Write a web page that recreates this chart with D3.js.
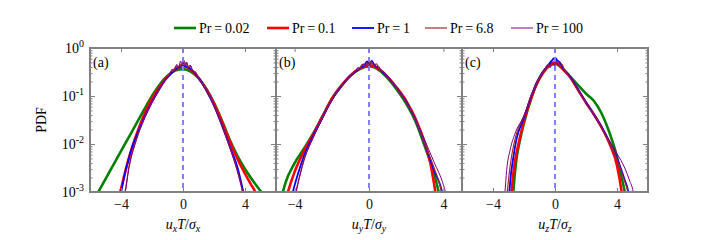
<!DOCTYPE html>
<html>
<head>
<meta charset="utf-8">
<script src="https://cdn.jsdelivr.net/npm/d3@7"></script>
<style>
  body { margin: 0; background: #fff; }
</style>
</head>
<body>
<div id="chart"></div>
<script>
// ---- data: [x, log10(PDF)] ----
var prLabels = ['0.02', '0.1', '1', '6.8', '100'];
var panelTags = ['(a)', '(b)', '(c)'];
var compNames = ['x', 'y', 'z'];
var xTickVals = [-4, 0, 4];
var yTickExps = [0, -1, -2, -3];

// panel (a): u_x
var ux002 = [[-5.7,-3.15],[-5.46,-3.0],[-5,-2.73],[-4.5,-2.44],[-4,-2.15],[-3.5,-1.86],[-3,-1.57],[-2.5,-1.28],[-2,-1.0],[-1.5,-0.76],[-1,-0.58],[-0.5,-0.47],[0,-0.44],[0.5,-0.49],[1,-0.63],[1.5,-0.85],[2,-1.14],[2.5,-1.5],[3,-1.9],[3.5,-2.24],[4,-2.52],[4.5,-2.76],[5,-2.98],[5.3,-3.12]];
var ux01 = [[-4.25,-3.2],[-4.05,-3.0],[-3.8,-2.67],[-3.5,-2.3],[-3,-1.8],[-2.5,-1.38],[-2,-1.05],[-1.5,-0.8],[-1,-0.6],[-0.5,-0.45],[0,-0.38],[0.5,-0.45],[1,-0.62],[1.5,-0.86],[2,-1.16],[2.5,-1.53],[3,-1.93],[3.5,-2.3],[4,-2.62],[4.4,-2.85],[4.65,-3.0],[4.8,-3.2]];
var ux1 = [[-4.12,-3.2],[-3.99,-3.0],[-3.75,-2.62],[-3.5,-2.3],[-3.2,-1.99],[-3,-1.83],[-2.5,-1.45],[-2,-1.12],[-1.5,-0.84],[-1,-0.61],[-0.5,-0.45],[0,-0.37],[0.5,-0.44],[1,-0.62],[1.5,-0.88],[2,-1.2],[2.5,-1.6],[3,-2.03],[3.5,-2.47],[3.89,-3.0],[4.02,-3.2]];
var ux68 = [[-3.88,-3.2],[-3.74,-3.0],[-3.5,-2.5],[-3,-1.9],[-2.5,-1.47],[-2,-1.13],[-1.5,-0.85],[-1,-0.6],[-0.8,-0.5],[-0.6,-0.46],[-0.45,-0.38],[-0.3,-0.43],[-0.2,-0.33],[-0.1,-0.4],[0,-0.3],[0.1,-0.37],[0.2,-0.3],[0.3,-0.4],[0.45,-0.36],[0.6,-0.47],[0.8,-0.5],[1,-0.62],[1.5,-0.88],[2,-1.2],[2.5,-1.6],[3,-2.05],[3.5,-2.55],[3.85,-3.0],[3.97,-3.2]];
var ux100 = [[-3.85,-3.2],[-3.72,-3.0],[-3.5,-2.52],[-3,-1.9],[-2.5,-1.48],[-2,-1.14],[-1.5,-0.86],[-1,-0.6],[-0.85,-0.55],[-0.7,-0.44],[-0.55,-0.47],[-0.4,-0.34],[-0.3,-0.42],[-0.15,-0.27],[-0.05,-0.38],[0.05,-0.25],[0.15,-0.36],[0.25,-0.3],[0.35,-0.42],[0.5,-0.37],[0.65,-0.5],[0.8,-0.52],[1,-0.63],[1.5,-0.89],[2,-1.21],[2.5,-1.61],[3,-2.06],[3.5,-2.56],[3.84,-3.0],[3.95,-3.2]];

// panel (b): u_y
var uy002 = [[-4.8,-3.25],[-4.63,-3.0],[-4.5,-2.82],[-4,-2.4],[-3.5,-2.1],[-3,-1.78],[-2.5,-1.42],[-2,-1.06],[-1.5,-0.8],[-1,-0.58],[-0.5,-0.44],[0,-0.38],[0.5,-0.45],[1,-0.63],[1.5,-0.87],[2,-1.16],[2.5,-1.53],[3,-2.05],[3.5,-2.62],[3.75,-3.0],[3.88,-3.2]];
var uy01 = [[-4.5,-3.2],[-4.36,-3.0],[-4,-2.58],[-3.5,-2.15],[-3,-1.8],[-2.5,-1.43],[-2,-1.06],[-1.5,-0.79],[-1,-0.57],[-0.5,-0.43],[0,-0.36],[0.5,-0.43],[1,-0.6],[1.5,-0.83],[2,-1.1],[2.5,-1.47],[3,-1.98],[3.3,-2.4],[3.57,-3.0],[3.65,-3.2]];
var uy1 = [[-4.2,-3.2],[-4.09,-3.0],[-3.8,-2.6],[-3.5,-2.25],[-3,-1.83],[-2.5,-1.45],[-2,-1.08],[-1.5,-0.8],[-1,-0.58],[-0.5,-0.42],[-0.25,-0.36],[-0.1,-0.28],[0,-0.33],[0.15,-0.27],[0.3,-0.36],[0.5,-0.42],[1,-0.6],[1.5,-0.84],[2,-1.12],[2.5,-1.5],[3,-2.0],[3.5,-2.55],[3.93,-3.0],[4.03,-3.2]];
var uy68 = [[-4.02,-3.2],[-3.93,-3.0],[-3.7,-2.62],[-3.5,-2.33],[-3,-1.86],[-2.5,-1.46],[-2,-1.08],[-1.5,-0.8],[-1,-0.58],[-0.7,-0.46],[-0.5,-0.42],[-0.35,-0.34],[-0.2,-0.38],[-0.1,-0.3],[0,-0.35],[0.1,-0.28],[0.25,-0.37],[0.4,-0.33],[0.55,-0.45],[0.7,-0.47],[1,-0.6],[1.5,-0.84],[2,-1.13],[2.5,-1.5],[3,-2.0],[3.5,-2.5],[3.9,-3.0],[4.0,-3.2]];
var uy100 = [[-4.0,-3.2],[-3.91,-3.0],[-3.7,-2.64],[-3.5,-2.35],[-3,-1.87],[-2.5,-1.47],[-2,-1.09],[-1.5,-0.81],[-1,-0.58],[-0.75,-0.5],[-0.6,-0.41],[-0.45,-0.43],[-0.3,-0.33],[-0.15,-0.38],[-0.05,-0.28],[0.05,-0.36],[0.2,-0.3],[0.35,-0.4],[0.5,-0.37],[0.65,-0.48],[0.8,-0.5],[1,-0.6],[1.5,-0.83],[2,-1.12],[2.5,-1.47],[3,-1.92],[3.5,-2.38],[4,-2.85],[4.11,-3.0],[4.2,-3.15]];

// panel (c): u_z
var uz002 = [[-2.75,-3.25],[-2.69,-3.0],[-2.6,-2.65],[-2.5,-2.35],[-2.3,-1.98],[-2,-1.56],[-1.5,-1.02],[-1,-0.62],[-0.5,-0.4],[0,-0.33],[0.5,-0.43],[1,-0.6],[1.5,-0.78],[2,-0.95],[2.5,-1.1],[3,-1.36],[3.5,-1.75],[4,-2.27],[4.3,-2.7],[4.5,-3.0],[4.6,-3.2]];
var uz01 = [[-2.88,-3.25],[-2.8,-3.0],[-2.7,-2.65],[-2.55,-2.3],[-2.3,-1.92],[-2,-1.52],[-1.5,-1.0],[-1,-0.64],[-0.5,-0.41],[0,-0.3],[0.5,-0.44],[1,-0.62],[1.5,-0.88],[2,-1.14],[2.5,-1.38],[3,-1.65],[3.5,-1.98],[4,-2.45],[4.3,-3.0],[4.38,-3.2]];
var uz1 = [[-3.02,-3.2],[-2.95,-3.0],[-2.85,-2.65],[-2.7,-2.3],[-2.5,-1.92],[-2,-1.45],[-1.5,-0.97],[-1,-0.62],[-0.5,-0.38],[-0.3,-0.3],[-0.15,-0.24],[0,-0.2],[0.15,-0.26],[0.3,-0.3],[0.5,-0.42],[1,-0.61],[1.5,-0.87],[2,-1.13],[2.5,-1.38],[3,-1.64],[3.5,-1.95],[4,-2.3],[4.5,-2.75],[4.73,-3.0],[4.82,-3.2]];
var uz68 = [[-3.15,-3.2],[-3.08,-3.0],[-2.95,-2.6],[-2.8,-2.25],[-2.5,-1.8],[-2,-1.42],[-1.5,-0.96],[-1,-0.62],[-0.6,-0.42],[-0.45,-0.35],[-0.3,-0.4],[-0.15,-0.3],[0,-0.36],[0.15,-0.28],[0.3,-0.38],[0.45,-0.34],[0.6,-0.45],[1,-0.62],[1.5,-0.88],[2,-1.14],[2.5,-1.38],[3,-1.65],[3.5,-1.96],[4,-2.32],[4.5,-2.78],[4.7,-3.0],[4.8,-3.2]];
var uz100 = [[-3.3,-3.2],[-3.23,-3.0],[-3.12,-2.55],[-2.9,-2.13],[-2.6,-1.8],[-2.04,-1.43],[-1.5,-0.98],[-1.29,-0.77],[-1,-0.6],[-0.65,-0.43],[-0.5,-0.36],[-0.35,-0.4],[-0.2,-0.3],[-0.05,-0.36],[0.05,-0.27],[0.2,-0.35],[0.35,-0.3],[0.5,-0.42],[0.7,-0.47],[1,-0.62],[1.5,-0.88],[2,-1.14],[2.5,-1.4],[3,-1.66],[3.5,-1.92],[4,-2.2],[4.5,-2.5],[4.8,-2.75],[5.05,-3.0],[5.15,-3.2]];

var panelSeries = [
    [ux002, ux01, ux1, ux68, ux100],
    [uy002, uy01, uy1, uy68, uy100],
    [uz002, uz01, uz1, uz68, uz100]
];
var panelXLims = [[-6, 6], [-5, 5], [-6, 6]];

// ---- styles ----
var lineColors = ['#008000', '#ff0000', '#0000ff', '#a52a2a', '#800080'];
var lineWidths = [2.6, 2.6, 1.8, 1.2, 1.0];
var axisGray = '#808080';
var serif = '"Liberation Serif", "DejaVu Serif", serif';

// ---- layout ----
var svgWidth = 720;
var svgHeight = 240;
var plotLeft = 90;
var plotTop = 48;
var panelWidth = 186;
var panelHeight = 144;

var svg = d3.select('#chart')
    .append('svg')
    .attr('width', svgWidth)
    .attr('height', svgHeight)
    .attr('font-family', serif);

var yScale = d3.scaleLog()
    .domain([1e-3, 1])
    .range([panelHeight, 0]);

// minor ticks 2..9 per decade
var minorTicks = [];
[-3, -2, -1].forEach(function(e) {
    for (var m = 2; m <= 9; m++) minorTicks.push(m * Math.pow(10, e));
});

panelSeries.forEach(function(seriesList, p) {
    var g = svg.append('g')
        .attr('transform', `translate(${plotLeft + p * panelWidth}, ${plotTop})`);

    var xScale = d3.scaleLinear()
        .domain(panelXLims[p])
        .range([0, panelWidth]);

    var clipId = 'clip' + p;
    g.append('clipPath').attr('id', clipId)
        .append('rect')
        .attr('width', panelWidth)
        .attr('height', panelHeight);

    var lineGen = d3.line()
        .x(d => xScale(d[0]))
        .y(d => yScale(Math.pow(10, d[1])))
        .curve(d3.curveMonotoneX);

    var plotArea = g.append('g').attr('clip-path', `url(#${clipId})`);

    seriesList.forEach(function(data, i) {
        plotArea.append('path')
            .datum(data)
            .attr('d', lineGen)
            .attr('fill', 'none')
            .attr('stroke', lineColors[i])
            .attr('stroke-width', lineWidths[i])
            .attr('stroke-linejoin', 'round');
    });

    // dashed line at zero
    plotArea.append('line')
        .attr('x1', xScale(0)).attr('x2', xScale(0))
        .attr('y1', 0).attr('y2', panelHeight)
        .attr('stroke', '#7f7fff')
        .attr('stroke-width', 2)
        .attr('stroke-dasharray', '5,4');

    // x ticks, inward, bottom and top
    var xBottom = d3.axisBottom(xScale).tickValues(xTickVals)
        .tickSize(-4).tickFormat(d => d < 0 ? '\u2212' + Math.abs(d) : d);
    var xTop = d3.axisTop(xScale).tickValues(xTickVals)
        .tickSize(-4).tickFormat('');

    var bx = g.append('g')
        .attr('transform', `translate(0, ${panelHeight})`)
        .call(xBottom);
    bx.selectAll('text').attr('dy', null).attr('y', 17)
        .attr('font-family', serif).attr('fill', '#111')
        .style('font-size', '14px');
    g.append('g').call(xTop);

    // y ticks, inward, left and right
    [d3.axisLeft(yScale), d3.axisRight(yScale)].forEach(function(ax, side) {
        var shift = side === 0 ? 0 : panelWidth;
        g.append('g')
            .attr('transform', `translate(${shift}, 0)`)
            .call(ax.tickValues(minorTicks).tickSize(-2.5).tickFormat(''));
        g.append('g')
            .attr('transform', `translate(${shift}, 0)`)
            .call(ax.tickValues(yTickExps.map(e => Math.pow(10, e))).tickSize(-5).tickFormat(''));
    });

    g.selectAll('.domain').remove();
    g.selectAll('.tick line').attr('stroke', axisGray);

    // frame
    g.append('rect')
        .attr('width', panelWidth)
        .attr('height', panelHeight)
        .attr('fill', 'none')
        .attr('stroke', axisGray)
        .attr('stroke-width', 2);

    // panel tag
    g.append('text')
        .attr('x', 3).attr('y', 19)
        .style('font-size', '14px')
        .text(panelTags[p]);

    // x title u_i T / sigma_i
    var title = g.append('text')
        .attr('x', panelWidth / 2).attr('y', 181)
        .attr('text-anchor', 'middle')
        .style('font-size', '14px');
    title.append('tspan').style('font-style', 'italic').text('u');
    title.append('tspan').style('font-style', 'italic').style('font-size', '10px')
        .attr('dy', 3).text(compNames[p]);
    title.append('tspan').style('font-style', 'italic').attr('dy', -3).text('T');
    title.append('tspan').text('/');
    title.append('tspan').style('font-style', 'italic').text('\u03c3');
    title.append('tspan').style('font-style', 'italic').style('font-size', '10px')
        .attr('dy', 3).text(compNames[p]);
});

// y tick labels on the first panel only
yTickExps.forEach(function(e) {
    var t = svg.append('text')
        .attr('x', plotLeft - 6)
        .attr('y', plotTop + yScale(Math.pow(10, e)) + 5)
        .attr('text-anchor', 'end')
        .style('font-size', '14px');
    t.append('tspan').text('10');
    t.append('tspan').attr('dy', -6).style('font-size', '10px').text(e === 0 ? '0' : '-' + Math.abs(e));
});

// y title
svg.append('text')
    .attr('transform', `translate(46, ${plotTop + panelHeight / 2}) rotate(-90)`)
    .attr('text-anchor', 'middle')
    .style('font-size', '14px')
    .text('PDF');

// legend
var legendX = [174, 267, 352, 425, 511];
prLabels.forEach(function(lab, i) {
    var lg = svg.append('g').attr('transform', `translate(${legendX[i]}, 28)`);
    lg.append('line')
        .attr('x1', 0).attr('x2', 22)
        .attr('stroke', lineColors[i])
        .attr('stroke-width', lineWidths[i]);
    lg.append('text')
        .attr('x', 25).attr('y', 5)
        .style('font-size', '14px')
        .text('Pr\u2009=\u2009' + lab);
});
</script>
</body>
</html>
